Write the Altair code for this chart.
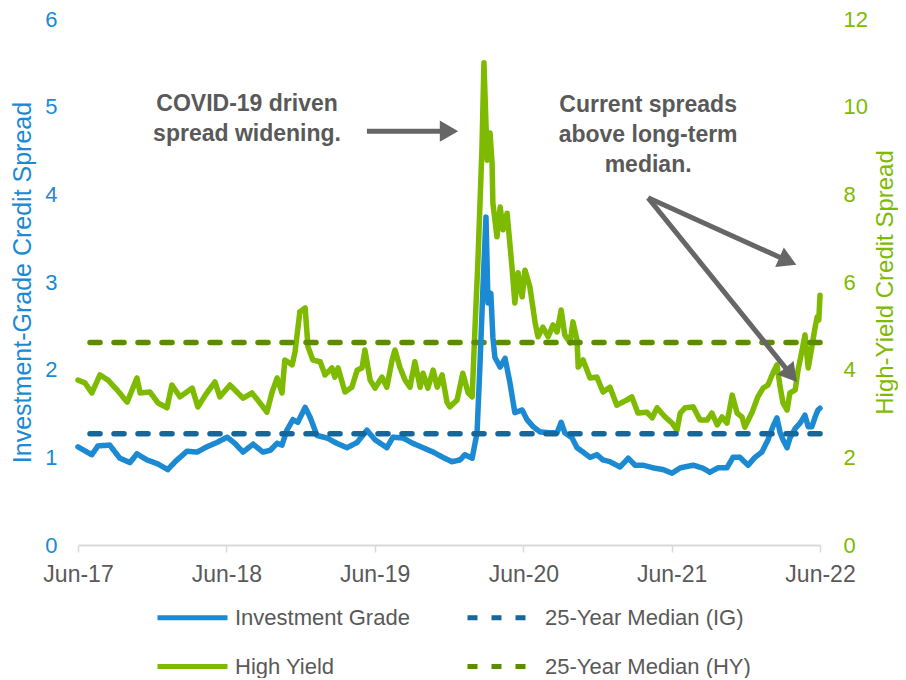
import altair as alt
import pandas as pd

# ---------------- data ----------------
ig_dates = [
    "2017-06-01", "2017-07-05", "2017-07-20", "2017-08-18", "2017-09-12", "2017-10-07", "2017-10-24", "2017-11-18", "2017-12-12",
    "2018-01-08", "2018-01-26", "2018-02-24", "2018-03-21", "2018-04-14", "2018-05-09", "2018-06-03", "2018-06-22", "2018-07-12",
    "2018-08-06", "2018-08-30", "2018-09-17", "2018-10-04", "2018-10-16", "2018-10-28", "2018-11-12", "2018-11-24", "2018-12-12", "2018-12-24",
    "2019-01-10", "2019-02-04", "2019-02-28", "2019-03-25", "2019-04-19", "2019-05-13", "2019-06-02", "2019-07-01", "2019-07-16",
    "2019-08-10", "2019-09-03", "2019-09-28", "2019-10-23", "2019-11-16", "2019-12-08", "2019-12-28",
    "2020-01-09", "2020-01-27", "2020-02-08", "2020-02-15", "2020-02-23", "2020-03-01", "2020-03-06", "2020-03-13", "2020-03-18",
    "2020-03-23", "2020-04-05", "2020-04-17", "2020-04-29", "2020-05-11", "2020-05-29", "2020-06-10", "2020-06-25", "2020-07-12",
    "2020-08-06", "2020-08-23", "2020-09-02", "2020-09-11", "2020-09-29", "2020-10-11", "2020-10-26", "2020-11-12", "2020-11-29",
    "2020-12-14", "2020-12-31",
    "2021-01-25", "2021-02-14", "2021-03-03", "2021-03-22", "2021-04-16", "2021-05-11", "2021-06-02", "2021-06-22", "2021-07-24",
    "2021-08-15", "2021-09-03", "2021-09-23", "2021-10-15", "2021-10-30", "2021-11-16", "2021-12-06", "2021-12-23",
    "2022-01-09", "2022-01-24", "2022-02-05", "2022-02-15", "2022-02-23", "2022-03-02", "2022-03-12", "2022-03-19", "2022-04-01",
    "2022-04-13", "2022-04-25", "2022-05-03", "2022-05-12", "2022-05-20", "2022-05-27", "2022-06-01",
]
ig_values = [
    1.12, 1.03, 1.13, 1.14, 0.99, 0.94, 1.04, 0.97, 0.93,
    0.86, 0.95, 1.07, 1.06, 1.12, 1.17, 1.23, 1.16, 1.06,
    1.15, 1.06, 1.08, 1.16, 1.14, 1.31, 1.43, 1.40, 1.57, 1.46,
    1.25, 1.22, 1.16, 1.11, 1.17, 1.31, 1.20, 1.11, 1.23,
    1.22, 1.16, 1.11, 1.06, 1.00, 0.95, 0.97,
    1.03, 0.99, 1.28, 2.03, 2.99, 3.74, 2.76, 2.87, 2.37,
    2.14, 2.03, 2.13, 1.85, 1.51, 1.54, 1.43, 1.35, 1.29,
    1.28, 1.28, 1.40, 1.28, 1.22, 1.11, 1.06, 1.00, 1.03,
    0.97, 0.95,
    0.89, 0.99, 0.91, 0.91, 0.88, 0.86, 0.82, 0.88, 0.91,
    0.88, 0.83, 0.88, 0.88, 1.00, 1.00, 0.91, 1.00,
    1.06, 1.20, 1.35, 1.45, 1.28, 1.20, 1.11, 1.22, 1.33,
    1.39, 1.48, 1.35, 1.35, 1.46, 1.54, 1.56,
]

hy_dates = [
    "2017-06-01", "2017-06-18", "2017-07-05", "2017-07-25", "2017-08-14", "2017-09-05", "2017-09-30", "2017-10-24", "2017-11-01",
    "2017-11-25", "2017-12-15",
    "2018-01-06", "2018-01-18", "2018-02-07", "2018-03-09", "2018-03-23", "2018-04-14", "2018-05-04", "2018-05-16", "2018-06-10",
    "2018-07-12", "2018-08-03", "2018-08-23", "2018-09-09", "2018-09-21", "2018-10-04", "2018-10-16", "2018-10-23", "2018-11-10",
    "2018-11-17", "2018-11-29", "2018-12-12", "2018-12-19", "2018-12-31",
    "2019-01-18", "2019-01-30", "2019-02-16", "2019-02-23", "2019-03-03", "2019-03-20", "2019-04-06", "2019-04-19", "2019-05-01",
    "2019-05-08", "2019-05-21", "2019-06-02", "2019-06-19", "2019-07-01", "2019-07-14", "2019-07-21", "2019-08-02", "2019-08-15",
    "2019-08-27", "2019-09-08", "2019-09-21", "2019-09-28", "2019-10-10", "2019-10-23", "2019-11-02", "2019-11-14", "2019-11-26",
    "2019-12-03", "2019-12-21",
    "2020-01-04", "2020-01-17", "2020-01-27", "2020-02-03", "2020-02-10", "2020-02-20", "2020-02-25", "2020-03-04", "2020-03-11",
    "2020-03-16", "2020-03-18", "2020-03-28", "2020-04-05", "2020-04-12", "2020-04-22", "2020-05-04", "2020-05-11", "2020-05-19",
    "2020-05-29", "2020-06-05", "2020-06-17", "2020-06-30", "2020-07-07", "2020-07-19", "2020-08-01", "2020-08-13", "2020-08-23",
    "2020-09-02", "2020-09-11", "2020-09-24", "2020-10-01", "2020-10-11", "2020-10-14", "2020-10-26", "2020-11-12", "2020-11-29",
    "2020-12-14", "2020-12-31",
    "2021-01-17", "2021-02-11", "2021-02-23", "2021-03-10", "2021-04-01", "2021-04-14", "2021-04-26", "2021-05-16", "2021-06-02",
    "2021-06-14", "2021-06-22", "2021-07-04", "2021-07-24", "2021-08-10", "2021-08-27", "2021-09-08", "2021-09-21", "2021-10-03",
    "2021-10-15", "2021-10-28", "2021-11-09", "2021-11-21", "2021-11-28", "2021-12-16", "2021-12-30",
    "2022-01-12", "2022-01-24", "2022-02-05", "2022-02-15", "2022-02-23", "2022-03-02", "2022-03-12", "2022-03-19", "2022-04-01",
    "2022-04-08", "2022-04-18", "2022-04-25", "2022-05-03", "2022-05-12", "2022-05-20", "2022-05-25", "2022-05-29", "2022-06-01",
]
hy_values = [
    3.76, 3.70, 3.47, 3.88, 3.76, 3.54, 3.26, 3.81, 3.47,
    3.49, 3.24,
    3.13, 3.65, 3.38, 3.58, 3.15, 3.47, 3.72, 3.38, 3.65,
    3.35, 3.47, 3.24, 3.03, 3.47, 3.81, 3.47, 4.22, 4.11,
    4.40, 5.32, 5.41, 4.52, 4.22,
    4.18, 3.88, 4.04, 3.83, 4.04, 3.49, 3.60, 3.99, 4.04,
    4.45, 3.76, 3.58, 3.83, 3.60, 4.22, 4.45, 4.06, 3.76,
    3.60, 4.18, 3.60, 3.92, 3.58, 3.99, 3.60, 3.88, 3.26,
    3.15, 3.31,
    3.92, 3.47, 3.38, 4.97, 6.43, 9.01, 11.0, 8.78, 9.40,
    8.71, 7.80, 7.03, 7.71, 7.19, 7.57, 6.34, 5.52, 6.21,
    5.66, 6.27, 5.89, 5.07, 4.75, 4.97, 4.75, 5.02, 4.86,
    5.36, 4.79, 4.61, 5.09, 4.68, 4.06, 4.22, 3.81, 3.83,
    3.49, 3.60,
    3.19, 3.31, 3.38, 3.01, 3.03, 2.90, 3.13, 2.92, 2.78,
    2.62, 3.01, 3.13, 3.15, 2.85, 2.85, 3.01, 2.74, 2.92,
    2.78, 3.42, 3.01, 2.92, 2.69, 3.03, 3.38,
    3.58, 3.65, 3.92, 4.11, 3.60, 3.24, 3.08, 3.47, 3.54,
    3.99, 4.45, 4.79, 4.04, 4.52, 4.97, 5.20, 5.13, 5.70,
]

median_ig = 1.27
median_hy = 4.62

series_names = ["Investment Grade", "25-Year Median (IG)", "High Yield", "25-Year Median (HY)"]
series_colors = ["#1B8AD3", "#15669A", "#7DBA00", "#5E8C00"]
series_dashes = [[1, 0], [10, 14], [1, 0], [10, 14]]

x_tick_dates = ["2017-06-01", "2018-06-01", "2019-06-01", "2020-06-01", "2021-06-01", "2022-06-01"]
ig_ticks = [0, 1, 2, 3, 4, 5, 6]
hy_ticks = [0, 2, 4, 6, 8, 10, 12]

ann_dates = ["2018-07-22", "2021-04-04"]
ann_values = [5.03, 5.02]
ann_texts = [["COVID-19 driven", "spread widening."],
             ["Current spreads", "above long-term", "median."]]

arrow_start_dates = ["2019-05-13", "2021-04-04", "2021-04-04"]
arrow_start_values = [4.72, 3.96, 3.96]
arrow_end_dates = ["2019-12-01", "2022-03-14", "2022-03-22"]
arrow_end_values = [4.72, 3.24, 1.94]
arrow_angles = [0, 24, 51]

# ---------------- tables ----------------
ig_df = pd.DataFrame({"date": ig_dates, "value": ig_values, "series": series_names[0]})
hy_df = pd.DataFrame({"date": hy_dates, "value": hy_values, "series": series_names[2]})
med_ig_df = pd.DataFrame({"value": [median_ig], "series": [series_names[1]]})
med_hy_df = pd.DataFrame({"value": [median_hy], "series": [series_names[3]]})
ann_df = pd.DataFrame({"date": ann_dates, "value": ann_values, "text": ann_texts})
arrow_df = pd.DataFrame({
    "d1": arrow_start_dates, "v1": arrow_start_values,
    "d2": arrow_end_dates, "v2": arrow_end_values, "angle": arrow_angles,
})

# tick positions as UTC epoch milliseconds
x_tick_ms = [int(pd.Timestamp(d, tz="UTC").value // 10**6) for d in x_tick_dates]

FONT = "Liberation Sans"
GRAY = "#595959"
ARROW = "#666666"
BLUE = series_colors[0]
GREEN = series_colors[2]

x_scale = alt.Scale(type="utc", nice=False, domain=[x_tick_ms[0], x_tick_ms[-1]])
y_ig_scale = alt.Scale(domain=[ig_ticks[0], ig_ticks[-1]], nice=False, zero=True)
y_hy_scale = alt.Scale(domain=[hy_ticks[0], hy_ticks[-1]], nice=False, zero=True)

x_axis = alt.Axis(
    values=x_tick_ms,
    labelExpr="utcFormat(datum.value, '%b-%y')",
    title=None, grid=False, tickSize=7, tickColor="#D9D9D9", tickWidth=1.5,
    domainColor="#D9D9D9", domainWidth=2, labelFontSize=23, labelColor=GRAY,
    labelFont=FONT, labelPadding=11, labelFlush=False, labelOverlap=False,
)
ig_axis = alt.Axis(
    orient="left", values=ig_ticks, grid=False, domain=False, ticks=False,
    labelFontSize=22, labelColor=BLUE, labelFont=FONT, labelPadding=21,
    title="Investment-Grade Credit Spread", titleFontSize=25, titleColor=BLUE,
    titleFont=FONT, titleFontWeight="normal", titlePadding=9,
)
hy_axis = alt.Axis(
    orient="right", values=hy_ticks, grid=False, domain=False, ticks=False,
    labelFontSize=22, labelColor=GREEN, labelFont=FONT, labelPadding=23,
    title="High-Yield Credit Spread", titleFontSize=24, titleColor=GREEN,
    titleFont=FONT, titleFontWeight="normal", titleAngle=270, titlePadding=30,
)

legend = alt.Legend(
    title=None, orient="none", legendX=77, legendY=561, columns=2, direction="horizontal",
    symbolType="stroke", symbolSize=4900, symbolStrokeWidth=5,
    labelFontSize=22, labelColor=GRAY, labelFont=FONT, labelLimit=400,
    columnPadding=47, rowPadding=0, padding=0, labelOffset=5,
)
color = alt.Color("series:N", scale=alt.Scale(domain=series_names, range=series_colors), legend=legend)
dash = alt.StrokeDash("series:N", scale=alt.Scale(domain=series_names, range=series_dashes), legend=legend)

X = lambda f: alt.X(f, scale=x_scale, axis=x_axis)

hy_line = alt.Chart(hy_df).mark_line(strokeWidth=5.5, strokeJoin="round", strokeCap="round").encode(
    x=X("date:T"),
    y=alt.Y("value:Q", scale=y_hy_scale, axis=hy_axis),
    color=color, strokeDash=dash,
)
hy_med = alt.Chart(med_hy_df).mark_rule(strokeWidth=5.5, strokeCap="round").encode(
    y=alt.Y("value:Q", scale=y_hy_scale, axis=None),
    color=color, strokeDash=dash,
)
ig_line = alt.Chart(ig_df).mark_line(strokeWidth=5.5, strokeJoin="round", strokeCap="round").encode(
    x=X("date:T"),
    y=alt.Y("value:Q", scale=y_ig_scale, axis=ig_axis),
    color=color, strokeDash=dash,
)
ig_med = alt.Chart(med_ig_df).mark_rule(strokeWidth=5.5, strokeCap="round").encode(
    y=alt.Y("value:Q", scale=y_ig_scale, axis=None),
    color=color, strokeDash=dash,
)
ann = alt.Chart(ann_df).mark_text(
    font=FONT, fontSize=23, fontWeight="bold", color=GRAY, lineHeight=30,
    align="center", baseline="middle",
).encode(
    x=X("date:T"),
    y=alt.Y("value:Q", scale=y_ig_scale, axis=None),
    text="text",
)
arrow_shafts = alt.Chart(arrow_df).mark_rule(strokeWidth=5, color=ARROW).encode(
    x=X("d1:T"), x2="d2:T",
    y=alt.Y("v1:Q", scale=y_ig_scale, axis=None), y2="v2:Q",
)
arrow_heads = alt.Chart(arrow_df).mark_point(
    shape="triangle-right", filled=True, size=450, color=ARROW, opacity=1, strokeWidth=0,
).encode(
    x=X("d2:T"),
    y=alt.Y("v2:Q", scale=y_ig_scale, axis=None),
    angle=alt.Angle("angle:Q", scale=None),
)

chart = (
    alt.layer(hy_line, hy_med, ig_line, ig_med, ann, arrow_shafts, arrow_heads)
    .resolve_scale(y="independent")
    .properties(
        width=742, height=526,
        autosize=alt.AutoSizeParams(type="none"),
        padding={"left": 70, "top": 11, "right": 78, "bottom": 133},
    )
    .configure(font=FONT, view=alt.ViewConfig(stroke=None))
)

chart.save("out.html", embed_options={"renderer": "svg", "actions": False})
